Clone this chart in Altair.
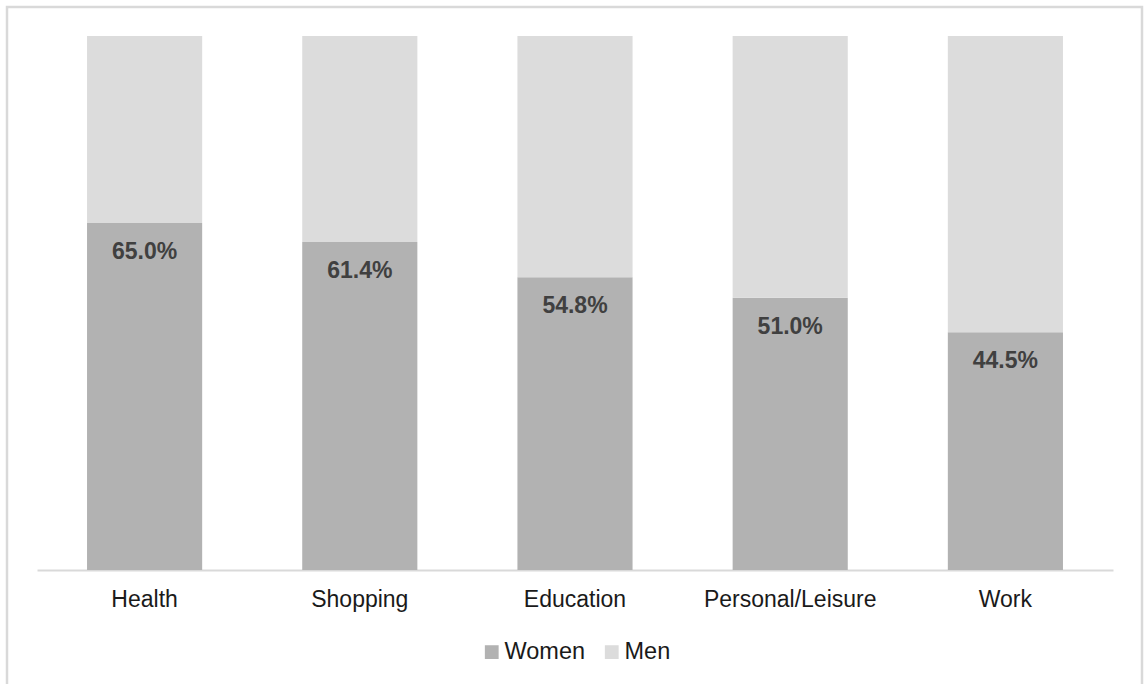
import altair as alt
import pandas as pd

categories = ["Health", "Shopping", "Education", "Personal/Leisure", "Work"]
women = [65.0, 61.4, 54.8, 51.0, 44.5]
men = [35.0, 38.6, 45.2, 49.0, 55.5]
series = ["Women", "Men"]
colors = ["#B2B2B2", "#DCDCDC"]

rows = []
for c, w, m in zip(categories, women, men):
    rows.append({"category": c, "series": "Women", "value": w / 100, "order": 0})
    rows.append({"category": c, "series": "Men", "value": m / 100, "order": 1})
df = pd.DataFrame(rows)
df_women = pd.DataFrame({"category": categories, "value": [w / 100 for w in women],
                         "label": [f"{w:.1f}%" for w in women]})

FONT = "Liberation Sans"
W, H = 1076, 534

xenc = alt.X("category:N", sort=categories, title=None,
             scale=alt.Scale(paddingInner=0.465, paddingOuter=0.2325),
             axis=alt.Axis(labelAngle=0, ticks=False, labelPadding=18, labelFontSize=23,
                           labelFont=FONT, labelColor="#1a1a1a", domainColor="#D9D9D9",
                           domainWidth=2))

bars = alt.Chart(df).mark_bar().encode(
    x=xenc,
    y=alt.Y("value:Q", stack="zero", scale=alt.Scale(domain=[0, 1]), axis=None),
    color=alt.Color("series:N", scale=alt.Scale(domain=series, range=colors),
                    legend=alt.Legend(title=None, orient="none", legendX=443, legendY=604,
                                      direction="horizontal", symbolType="square",
                                      symbolSize=190, symbolStrokeWidth=0,
                                      labelFontSize=23.5, labelFont=FONT, labelColor="#1a1a1a",
                                      labelOffset=1, columnPadding=14)),
    order=alt.Order("order:Q"),
)

labels = alt.Chart(df_women).mark_text(
    baseline="top", dy=18, fontSize=23, fontWeight="bold", font=FONT, color="#404040"
).encode(
    x=alt.X("category:N", sort=categories),
    y=alt.Y("value:Q"),
    text="label:N",
)

border = alt.Chart(pd.DataFrame({"a": [0]})).mark_rect(
    filled=False, stroke="#D9D9D9", strokeWidth=2.5
).encode(
    x=alt.value(-30), x2=alt.value(1105), y=alt.value(-29), y2=alt.value(700)
)

chart = alt.layer(bars, labels, border).properties(
    width=W, height=H,
    autosize=alt.AutoSizeParams(type="none"),
    padding={"left": 37, "top": 36, "right": 31, "bottom": 114},
    background="white",
).configure_view(stroke=None)

chart.save("out.html", embed_options={"renderer": "svg", "actions": False})
